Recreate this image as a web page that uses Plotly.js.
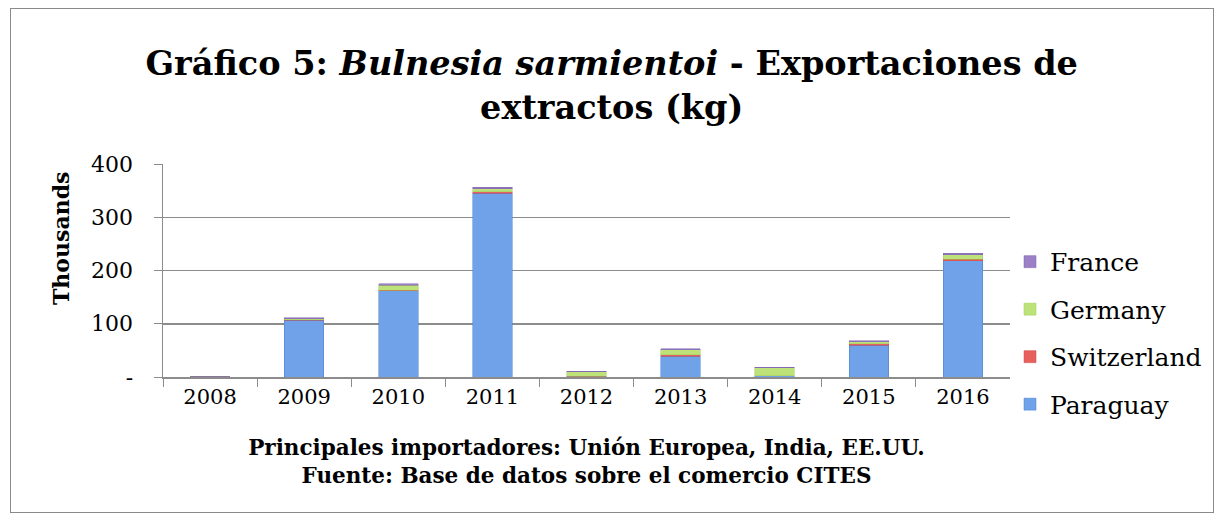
<!DOCTYPE html>
<html><head><meta charset="utf-8">
<script src="https://cdn.plot.ly/plotly-3.0.1.min.js"></script>
<style>
html,body{margin:0;padding:0;background:#fff;}
#wrap{position:relative;width:1221px;height:520px;}
#chart{width:1221px;height:520px;}
#frame{position:absolute;left:10px;top:8px;width:1202px;height:503px;border:1.5px solid #8a8a8a;pointer-events:none;}
</style></head>
<body>
<div id="wrap"><div id="chart"></div><div id="frame"></div></div>
<script>
const years = ['2008','2009','2010','2011','2012','2013','2014','2015','2016'];
const paraguay    = [1, 107, 162, 345, 1, 39, 2, 60, 218];
const switzerland = [0, 0.5, 1, 3, 0, 3, 0, 2, 3];
const germany     = [0, 2, 9, 6, 9, 9, 15, 4, 9];
const france      = [0, 1.5, 3, 2, 0.5, 2, 1, 2, 2];
const yTickVals = [0, 100, 200, 300, 400];
const yTickText = ['-', '100', '200', '300', '400'];

const serif = 'DejaVu Serif, Liberation Serif, serif';
function tr(name, vals, color, line, rank){
  return {type:'bar', name:name, x:years, y:vals, legendgroup:name, legendrank:rank,
    marker:{color:color, line:{color:line, width:0.5}}, hoverinfo:'x+y+name'};
}
const data = [
  tr('Paraguay', paraguay, '#6fa2e8', '#4a80cc', 4),
  tr('Switzerland', switzerland, '#e8605e', '#d04a48', 3),
  tr('Germany', germany, '#bde27a', '#a0cc55', 2),
  tr('France', france, '#9b7fc7', '#7f62ad', 1)
];
const layout = {
  width:1221, height:520,
  paper_bgcolor:'#fff', plot_bgcolor:'#fff',
  margin:{l:163, r:211, t:164, b:143},
  barmode:'stack', bargap:0.58,
  title:{text:'<b>Gráfico 5: <i>Bulnesia sarmientoi</i> - Exportaciones de<br>extractos (kg)</b>',
    font:{family:serif, size:33.5, color:'#000'}, x:0.501, xanchor:'center', xref:'container',
    yref:'container', y:0.855, yanchor:'middle'},
  xaxis:{type:'category', ticks:'outside', tickson:'boundaries', ticklen:8, tickcolor:'#8c8c8c',
    showline:true, linecolor:'#8c8c8c', linewidth:1.5, showgrid:false,
    tickfont:{family:serif, size:21, color:'#000'},
    title:{text:'<b>Principales importadores: Unión Europea, India, EE.UU.<br>Fuente: Base de datos sobre el comercio CITES</b>',
      font:{family:serif, size:21.5, color:'#000'}, standoff:32}},
  yaxis:{range:[0,400], tickvals:yTickVals, ticktext:yTickText, ticks:'outside', ticklen:8, tickcolor:'#8c8c8c',
    showline:true, linecolor:'#8c8c8c', linewidth:1.5, showgrid:true, gridcolor:'#8c8c8c', gridwidth:1.5,
    zeroline:false, tickfont:{family:serif, size:22, color:'#000'}, ticklabelstandoff:16},
  annotations:[{text:'<b>Thousands</b>', xref:'paper', yref:'paper', x:-0.1204, y:0.648,
    xanchor:'center', yanchor:'middle', textangle:-90, showarrow:false,
    font:{family:serif, size:22, color:'#000'}}],
  legend:{x:1.0, xanchor:'left', y:0.207, yanchor:'middle', traceorder:'grouped', tracegroupgap:12,
    font:{family:serif, size:25, color:'#000'}, itemwidth:30},
  showlegend:true
};
Plotly.newPlot('chart', data, layout, {displayModeBar:false, staticPlot:true});
</script>
</body></html>
